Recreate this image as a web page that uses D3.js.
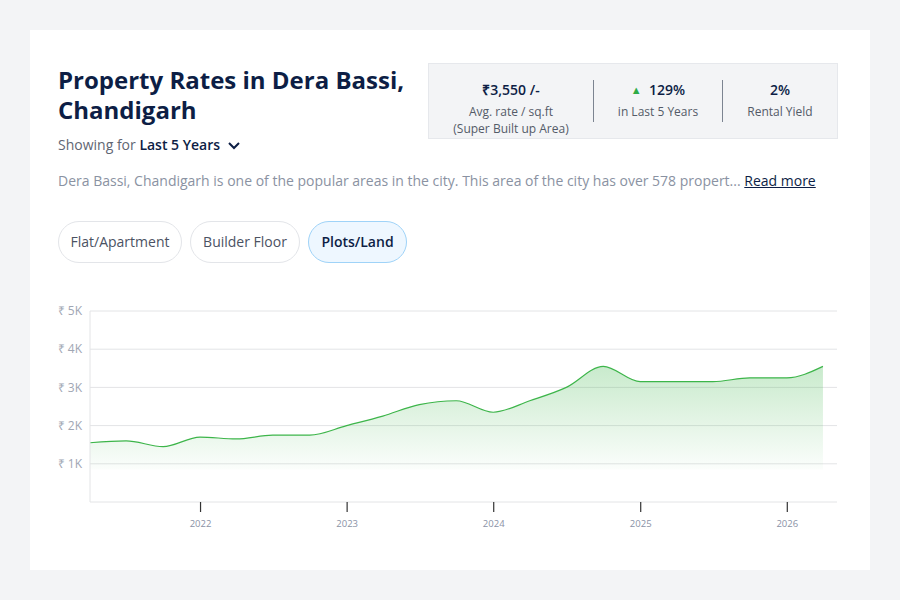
<!DOCTYPE html>
<html>
<head>
<meta charset="utf-8">
<script src="https://cdn.jsdelivr.net/npm/d3@7"></script>
<style>
  body { margin: 0; background: #f3f4f6; font-family: "Open Sans", sans-serif; }
  .card { position: absolute; left: 30px; top: 30px; width: 840px; height: 540px; background: #fff; }
  .abs { position: absolute; white-space: nowrap; }
  h1 { margin: 0; font-size: 24px; line-height: 30px; font-weight: 700; color: #0d1e45; }
  .showing { font-size: 14px; color: #5f6673; }
  .showing b { color: #0d1e45; font-weight: 600; }
  .stats { left: 398px; top: 33px; width: 408px; height: 74px; background: #f3f4f6; border: 1px solid #e6e8ec; }
  .stat { position: absolute; top: 16px; text-align: center; font-size: 12px; color: #545b68; line-height: 17px; }
  .stat .v { font-size: 14px; font-weight: 600; color: #0d1e45; line-height: 20px; margin-bottom: 3px; }
  .div { position: absolute; top: 16px; width: 1px; height: 42px; background: #7c8491; }
  .desc { font-size: 14px; color: #8a92a2; }
  .desc u { color: #0d1e45; }
  .pill { position: absolute; top: 191px; height: 40px; border: 1px solid #e3e5e9; border-radius: 21px; font-size: 14px; color: #4b5263; line-height: 40px; text-align: center; }
  .pill.on { background: #eef7ff; border-color: #9fd3f8; color: #0d1e45; font-weight: 600; }
</style>
</head>
<body>
<div class="card">
  <div class="abs" style="left:28px;top:35px;"><h1>Property Rates in Dera Bassi,<br>Chandigarh</h1></div>
  <div class="abs showing" style="left:28px;top:105px;">Showing for <b>Last 5 Years</b>
    <svg width="14" height="10" style="margin-left:3px"><path d="M2 3 L7 8 L12 3" fill="none" stroke="#0d1e45" stroke-width="2"/></svg>
  </div>
  <div class="abs stats">
    <div class="stat" style="left:0;width:164px;"><div class="v">₹3,550 /-</div>Avg. rate / sq.ft<br>(Super Built up Area)</div>
    <div class="div" style="left:164px;"></div>
    <div class="stat" style="left:165px;width:128px;"><div class="v"><span style="color:#2eab46;font-size:11px;vertical-align:1px;">▲</span>&nbsp; 129%</div>in Last 5 Years</div>
    <div class="div" style="left:293px;"></div>
    <div class="stat" style="left:294px;width:114px;"><div class="v">2%</div>Rental Yield</div>
  </div>
  <div class="abs desc" style="left:28px;top:141px;">Dera Bassi, Chandigarh is one of the popular areas in the city. This area of the city has over 578 propert... <u>Read more</u></div>
  <div class="pill" style="left:28px;width:122px;">Flat/Apartment</div>
  <div class="pill" style="left:160px;width:108px;">Builder Floor</div>
  <div class="pill on" style="left:278px;width:97px;">Plots/Land</div>
</div>
<svg id="chart" width="900" height="600" style="position:absolute;left:0;top:0;"></svg>
<script>
// quarterly rates, Apr 2021 -> Apr 2026
const dates = ["2021-04-01","2021-07-01","2021-10-01","2022-01-01","2022-04-01","2022-07-01","2022-10-01",
  "2023-01-01","2023-04-01","2023-07-01","2023-10-01","2024-01-01","2024-04-01","2024-07-01","2024-10-01",
  "2025-01-01","2025-04-01","2025-07-01","2025-10-01","2026-01-01","2026-04-01"];
const rates = [1550, 1600, 1450, 1700, 1650, 1750, 1750, 2000, 2250, 2550, 2650, 2350, 2650, 3000, 3550,
  3150, 3150, 3150, 3250, 3250, 3550];
const yTicks = [1000, 2000, 3000, 4000, 5000];
const xTicks = ["2022", "2023", "2024", "2025", "2026"];

const data = dates.map((d, i) => ({ date: new Date(d), rate: rates[i] }));

const margin = { top: 311, right: 63, bottom: 98, left: 90 };
const width = 900 - margin.left - margin.right;
const height = 600 - margin.top - margin.bottom;

const svg = d3.select("#chart")
  .append("g")
  .attr("transform", `translate(${margin.left},${margin.top})`);

const xScale = d3.scaleTime()
  .domain([new Date("2021-04-02"), new Date("2026-05-06")])
  .range([0, width]);

const yScale = d3.scaleLinear()
  .domain([0, 5000])
  .range([height, 0]);

// gradient for area
const defs = d3.select("#chart").append("defs");
const grad = defs.append("linearGradient").attr("id", "fill")
  .attr("x1", 0).attr("x2", 0).attr("y1", 0).attr("y2", 1);
grad.append("stop").attr("offset", "0%").attr("stop-color", "#3db54a").attr("stop-opacity", 0.28);
grad.append("stop").attr("offset", "100%").attr("stop-color", "#3db54a").attr("stop-opacity", 0.02);

// clip so the curve doesn't poke past the left frame
defs.append("clipPath").attr("id", "clip")
  .append("rect").attr("width", width).attr("height", height);

// gridlines
svg.append("g")
  .selectAll("line")
  .data(yTicks)
  .enter()
  .append("line")
  .attr("x1", 0)
  .attr("x2", width)
  .attr("y1", d => yScale(d))
  .attr("y2", d => yScale(d))
  .attr("stroke", "#e3e4e6");

// y labels
svg.append("g")
  .selectAll("text")
  .data(yTicks)
  .enter()
  .append("text")
  .attr("x", -8)
  .attr("y", d => yScale(d))
  .attr("dy", "0.35em")
  .attr("text-anchor", "end")
  .attr("font-size", 12)
  .attr("fill", "#a0a6b3")
  .text(d => `₹ ${d / 1000}K`);

// area + line
const area = d3.area()
  .x(d => xScale(d.date))
  .y0(yScale(850))
  .y1(d => yScale(d.rate))
  .curve(d3.curveMonotoneX);

const line = d3.line()
  .x(d => xScale(d.date))
  .y(d => yScale(d.rate))
  .curve(d3.curveMonotoneX);

const plot = svg.append("g").attr("clip-path", "url(#clip)");

plot.append("path")
  .datum(data)
  .attr("d", area)
  .attr("fill", "url(#fill)");

plot.append("path")
  .datum(data)
  .attr("d", line)
  .attr("fill", "none")
  .attr("stroke", "#3db54a")
  .attr("stroke-width", 1.2);

// axis frame
svg.append("line").attr("x1", 0).attr("x2", 0).attr("y1", 0).attr("y2", height).attr("stroke", "#e3e4e6");
svg.append("line").attr("x1", 0).attr("x2", width).attr("y1", height).attr("y2", height).attr("stroke", "#e3e4e6");

// x axis
const xAxis = d3.axisBottom(xScale)
  .tickValues(xTicks.map(t => new Date(`${t}-01-01`)))
  .tickFormat(d3.timeFormat("%Y"))
  .tickSize(10)
  .tickPadding(8);
const gx = svg.append("g")
  .attr("transform", `translate(0, ${height})`)
  .call(xAxis);
gx.select(".domain").remove();
gx.selectAll(".tick line").attr("stroke", "#333").attr("stroke-width", 1.2);
gx.selectAll(".tick text").attr("fill", "#8a92a6").attr("font-size", 9.5).attr("font-family", "Open Sans, sans-serif");
</script>
</body>
</html>
